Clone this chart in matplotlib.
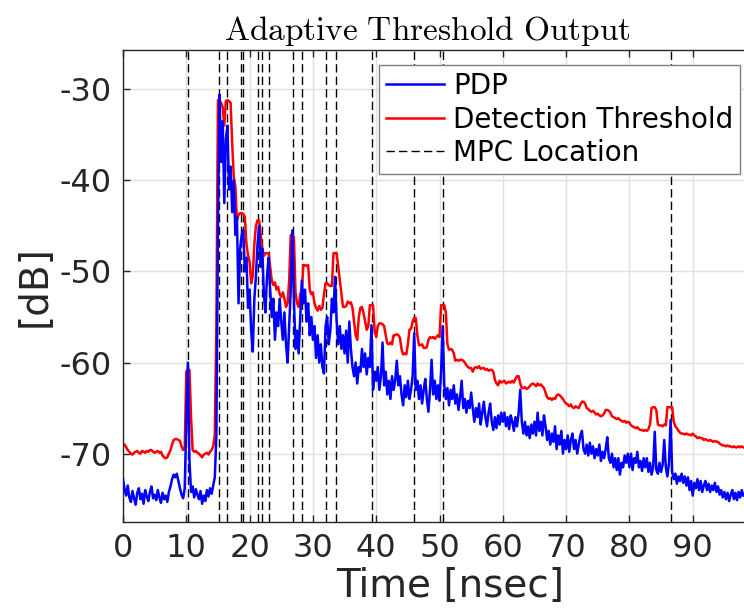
import numpy as np
import matplotlib
matplotlib.use("Agg")
import matplotlib.pyplot as plt

plt.rcParams['axes.unicode_minus'] = False
plt.rcParams['mathtext.fontset'] = 'cm'

dt = 0.25  # sampling step of both traces [nsec]

pdp_db = [
    -72.8, -73.9, -74.6, -73.5, -74.8, -75.3, -74.1, -74.9, -75.6, -74.3, -73.8, -75.0, -74.4, -75.5, -74.0, -74.7, -75.2, -74.2, -73.6, -74.9,
    -74.5, -75.1, -74.0, -74.8, -75.4, -74.3, -75.0, -74.6, -75.3, -74.2, -73.6, -72.8, -72.3, -72.6, -72.2, -73.0, -73.8, -74.5, -74.9, -73.8,
    -66.5, -60.0, -70.8, -74.2, -73.6, -74.8, -73.9, -74.5, -75.0, -74.1, -75.5, -74.6, -75.2, -74.0, -74.7, -73.8, -74.4, -73.5, -72.6, -68.0,
    -45.0, -30.6, -38.0, -33.5, -42.5, -35.5, -34.0, -41.0, -38.5, -43.5, -40.0, -46.0, -44.0, -53.5, -47.5, -46.0, -45.5, -50.0, -48.5, -54.0,
    -52.0, -56.5, -58.8, -53.0, -50.5, -47.0, -45.0, -49.5, -47.5, -52.5, -54.5, -50.5, -48.5, -52.0, -55.0, -53.0, -57.5, -54.5, -56.0, -53.0,
    -55.5, -57.5, -54.5, -58.0, -60.0, -56.0, -52.0, -45.5, -53.0, -58.5, -56.5, -59.0, -55.0, -51.0, -53.5, -52.0, -55.5, -53.5, -57.0, -55.0,
    -57.5, -56.0, -59.5, -57.0, -60.0, -58.0, -60.5, -61.2, -56.0, -55.0, -58.0, -56.5, -53.0, -54.5, -50.6, -55.5, -58.0, -56.0, -58.5, -57.0,
    -59.0, -56.5, -60.0, -55.5, -58.5, -60.5, -61.5, -60.0, -62.3, -60.5, -61.0, -58.5, -60.5, -59.0, -61.3, -59.5, -60.5, -55.9, -63.0, -61.0,
    -62.0, -60.5, -63.0, -61.5, -57.8, -62.5, -61.0, -63.5, -62.0, -64.0, -61.5, -63.0, -62.0, -59.8, -62.5, -61.5, -63.5, -64.7, -62.5, -63.8,
    -62.0, -64.0, -63.0, -61.5, -56.8, -63.0, -62.0, -64.0, -62.5, -64.5, -63.0, -61.8, -64.0, -65.4, -63.0, -59.7, -63.5, -62.0, -64.0, -62.5,
    -64.2, -61.0, -56.0, -62.5, -64.0, -62.8, -64.7, -63.0, -64.0, -62.5, -64.5, -63.5, -65.2, -63.8, -62.0, -65.0, -64.0, -65.5, -64.2, -65.0,
    -63.3, -65.0, -66.5, -65.0, -66.0, -64.5, -66.8, -65.5, -64.3, -66.0, -67.0, -65.5, -64.5, -66.5, -67.4, -66.0, -67.2, -65.8, -66.8, -65.5,
    -66.5, -65.5, -67.0, -66.0, -67.3, -65.8, -66.5, -67.5, -66.0, -67.0, -65.5, -63.0, -66.5, -67.8, -66.5, -68.0, -67.0, -68.3, -66.8, -67.8,
    -66.5, -68.0, -65.5, -67.5, -66.5, -68.0, -65.8, -67.0, -68.5, -67.5, -69.0, -67.8, -68.7, -67.0, -69.5, -68.0, -69.0, -67.5, -70.0, -68.5,
    -69.5, -68.0, -69.8, -68.5, -67.8, -69.5, -68.5, -70.0, -69.0, -68.0, -67.5, -69.5, -70.0, -69.0, -70.2, -68.8, -70.0, -69.2, -70.5, -69.5,
    -70.2, -69.0, -70.8, -69.8, -70.5, -69.5, -68.2, -70.5, -71.0, -70.0, -71.5, -70.5, -71.8, -70.5, -72.3, -71.0, -71.5, -70.2, -71.0, -70.0,
    -71.5, -70.0, -71.8, -70.5, -71.0, -69.8, -71.5, -70.8, -71.9, -70.5, -71.5, -70.5, -72.0, -71.0, -72.3, -71.5, -67.6, -71.8, -72.2, -71.0,
    -72.0, -71.2, -68.5, -71.5, -72.5, -71.0, -66.3, -72.0, -72.8, -72.2, -73.3, -72.5, -73.0, -72.2, -73.2, -72.5, -73.5, -72.6, -74.0, -73.0,
    -74.6, -73.2, -73.8, -72.8, -74.0, -73.0, -74.2, -73.5, -73.0, -74.0, -73.3, -74.2, -73.5, -74.0, -73.2, -74.2, -73.6, -74.5, -74.0, -74.8,
    -74.2, -75.0, -74.3, -75.2, -74.5, -74.0, -75.0, -74.3, -75.1, -74.2, -74.8, -74.0, -74.6,
]

threshold_db = [
    -69.1, -69.0, -69.3, -69.6, -69.8, -70.0, -70.1, -69.9, -69.8, -69.7, -69.9, -70.0, -69.7, -69.8, -69.9, -69.7, -69.8, -69.6, -69.6, -69.8,
    -69.9, -69.8, -69.7, -69.9, -69.8, -70.2, -70.4, -70.5, -70.4, -70.0, -69.6, -69.0, -68.5, -68.4, -68.4, -68.5, -68.6, -69.2, -69.6, -69.5,
    -61.0, -60.8, -60.8, -66.0, -69.6, -69.8, -69.7, -69.9, -70.0, -70.2, -70.4, -70.1, -70.0, -69.9, -70.1, -69.8, -69.6, -69.2, -68.0, -56.0,
    -31.2, -31.3, -31.5, -32.0, -34.0, -31.3, -31.2, -31.3, -31.5, -36.0, -39.6, -40.7, -44.4, -43.8, -43.6, -43.6, -43.7, -44.0, -47.0, -48.2,
    -49.0, -51.3, -50.5, -47.0, -45.0, -44.4, -44.4, -46.0, -47.5, -48.3, -48.0, -48.0, -48.0, -49.5, -51.0, -51.5, -51.2, -52.0, -51.7, -52.5,
    -52.8, -52.3, -53.0, -53.9, -53.5, -51.0, -46.0, -46.0, -46.2, -52.3, -53.5, -53.9, -52.5, -52.0, -49.3, -49.3, -49.4, -49.3, -52.0, -52.5,
    -52.3, -53.5, -54.0, -54.3, -53.8, -54.2, -54.0, -52.5, -51.3, -51.3, -51.5, -51.6, -51.6, -48.0, -48.0, -48.0, -49.5, -50.9, -52.5, -53.9,
    -53.9, -53.8, -53.3, -53.5, -53.4, -54.0, -55.5, -57.0, -57.5, -55.0, -54.0, -53.9, -54.6, -55.5, -56.4, -56.0, -53.7, -53.7, -53.7, -56.5,
    -57.2, -56.0, -55.7, -55.7, -55.8, -56.0, -57.0, -57.9, -58.0, -57.8, -58.0, -57.0, -57.0, -56.9, -57.0, -57.3, -58.5, -59.1, -59.0, -59.1,
    -58.0, -56.4, -56.3, -55.5, -55.1, -55.1, -57.0, -58.1, -58.1, -58.0, -58.4, -58.4, -58.3, -57.5, -57.2, -57.3, -57.2, -57.4, -57.2, -57.0,
    -57.2, -53.7, -53.7, -53.7, -54.5, -58.0, -58.6, -58.5, -58.6, -59.0, -59.8, -59.7, -59.8, -59.7, -59.7, -59.8, -60.0, -60.3, -60.5, -60.6,
    -60.6, -61.0, -60.6, -60.5, -60.6, -60.4, -60.7, -60.6, -60.6, -60.8, -60.7, -60.9, -60.8, -60.8, -61.0, -61.9, -62.3, -62.5, -62.0, -62.2,
    -62.1, -62.0, -62.3, -62.2, -62.1, -62.2, -62.0, -62.2, -61.8, -61.5, -61.5, -62.3, -62.8, -62.8, -62.7, -62.9, -62.8, -62.6, -62.4, -62.3,
    -62.4, -62.6, -62.3, -62.5, -62.4, -62.6, -62.8, -63.3, -63.8, -64.0, -63.9, -64.1, -63.9, -64.0, -63.6, -63.5, -63.6, -63.8, -64.0, -64.3,
    -64.5, -64.6, -64.8, -64.6, -64.9, -65.0, -64.8, -64.9, -65.0, -64.6, -64.3, -64.3, -64.5, -65.0, -65.1, -65.3, -65.4, -65.3, -65.5, -65.7,
    -65.6, -65.8, -65.9, -65.8, -65.6, -65.2, -65.2, -65.3, -65.5, -65.9, -66.0, -66.1, -66.2, -66.1, -66.3, -66.4, -66.5, -66.4, -66.6, -66.5,
    -66.6, -66.9, -67.0, -67.1, -67.2, -67.1, -67.3, -67.4, -67.4, -67.5, -67.4, -67.5, -67.3, -66.8, -65.0, -64.9, -64.9, -65.2, -66.8, -66.9,
    -66.9, -67.0, -66.8, -66.9, -64.9, -64.9, -64.9, -64.9, -66.5, -67.0, -67.2, -67.5, -67.7, -67.8, -67.8, -67.9, -67.8, -67.9, -67.9, -68.0,
    -67.8, -68.0, -68.1, -68.3, -68.2, -68.3, -68.3, -68.5, -68.4, -68.5, -68.6, -68.5, -68.6, -68.7, -68.6, -68.7, -68.7, -68.9, -69.0, -69.1,
    -69.1, -69.2, -69.1, -69.2, -69.2, -69.3, -69.2, -69.3, -69.3, -69.2, -69.3, -69.2, -69.3,
]

mpc_times = [10.2, 15.2, 16.4, 18.6, 19.0, 21.4, 22.0, 23.0, 26.8, 28.3,
             32.0, 33.6, 39.3, 46.0, 50.6, 86.5]

x_ticks = [0, 10, 20, 30, 40, 50, 60, 70, 80, 90]
y_ticks = [-70, -60, -50, -40, -30]

t = np.arange(len(pdp_db)) * dt
t_thr = np.arange(len(threshold_db)) * dt

fig = plt.figure(figsize=(7.44, 6.12), dpi=100)
ax = fig.add_axes([123/744, 90/612, 621/744, 472/612])

txt = '#262626'
for i, tm in enumerate(mpc_times):
    ax.axvline(tm, color='black', lw=1.0, ls=(0, (6, 3)), zorder=1,
               label='MPC Location' if i == 0 else None)
l1, = ax.plot(t, pdp_db, color='#0000ff', lw=1.8, zorder=3, label='PDP')
l2, = ax.plot(t_thr, threshold_db, color='#ff0000', lw=1.8, zorder=2,
              label='Detection Threshold')

ax.set_xlim(0, 98.1)
ax.set_ylim(-77.5, -25.7)
ax.set_xticks(x_ticks)
ax.set_yticks(y_ticks)
ax.set_xticklabels([str(v) for v in x_ticks])
ax.set_yticklabels([str(v) for v in y_ticks])
ax.grid(True, color='#e0e0e0', lw=1.0, zorder=0)
ax.set_axisbelow(True)
ax.tick_params(direction='in', length=5, width=1, colors=txt,
               labelsize=23, top=True, right=False, pad=8)
for s in ['left', 'bottom', 'top']:
    ax.spines[s].set_color(txt)
    ax.spines[s].set_linewidth(1.0)
ax.spines['right'].set_visible(False)

ax.set_xlabel('Time [nsec]', fontsize=28, color=txt, labelpad=2)
ax.xaxis.label.set_x(0.527)
ax.set_ylabel('[dB]', fontsize=28, color=txt, labelpad=4)
ax.set_title(r'$\mathrm{Adaptive\ Threshold\ Output}$', fontsize=24,
             color='black', pad=7, x=0.49)

handles = [l1, l2, ax.get_lines()[0]]
leg = ax.legend(handles, ['PDP', 'Detection Threshold', 'MPC Location'],
                loc='upper right', bbox_to_anchor=(0.9936, 0.968),
                fontsize=20, frameon=True, fancybox=False, framealpha=1,
                edgecolor='#7f7f7f', borderaxespad=0, borderpad=0.25,
                labelspacing=0.2, handlelength=2.1, handletextpad=0.3)
leg.get_frame().set_linewidth(1.0)

fig.savefig('out.png', dpi=100)
